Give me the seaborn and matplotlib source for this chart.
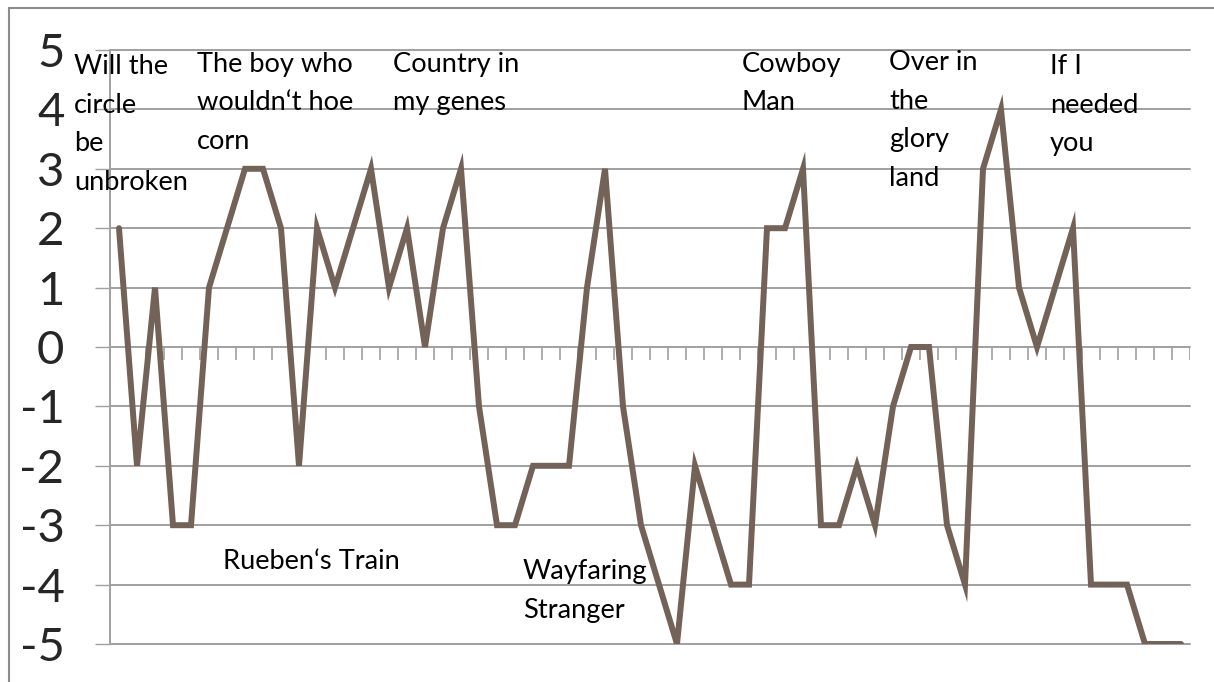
"""
Song mood line chart
"""

import matplotlib
matplotlib.use("Agg")
import matplotlib.pyplot as plt
import seaborn as sns
import pandas as pd
from matplotlib.patches import Rectangle

# one value per song in the set
scores = [2, -2, 1, -3, -3, 1, 2, 3, 3, 2,
          -2, 2, 1, 2, 3, 1, 2, 0, 2, 3,
          -1, -3, -3, -2, -2, -2, 1, 3, -1, -3,
          -4, -5, -2, -3, -4, -4, 2, 2, 3, -3,
          -3, -2, -3, -1, 0, 0, -3, -4, 3, 4,
          1, 0, 1, 2, -4, -4, -4, -5, -5, -5]
y_ticks = [5, 4, 3, 2, 1, 0, -1, -2, -3, -4, -5]

labels = ["Will the\ncircle\nbe\nunbroken",
          "The boy who\nwouldn\u2018t hoe\ncorn",
          "Country in\nmy genes",
          "Cowboy\nMan",
          "Over in\nthe\nglory\nland",
          "If I\nneeded\nyou",
          "Rueben\u2018s Train",
          "Wayfaring\nStranger"]
label_x = [-2.5, 4.33, 15.22, 34.6, 42.78, 51.72, 5.78, 22.44]
label_y = [4.93, 4.97, 4.97, 4.97, 5.0, 4.93, -3.4, -3.57]

LINE_COLOR = "#736257"
GRID_COLOR = "#a0a0a0"
FONT = ["Lato", "DejaVu Sans"]


def main():
    sns.set_style("white")
    plt.rcParams["font.family"] = FONT

    df = pd.DataFrame({"song": range(len(scores)), "score": scores})

    fig = plt.figure(figsize=(12.14, 6.82), dpi=100)
    ax = fig.add_axes([110 / 1214, 1 - 644 / 682, 1080 / 1214, 594 / 682])

    sns.lineplot(data=df, x="song", y="score", ax=ax, color=LINE_COLOR,
                 linewidth=4.3, solid_joinstyle="miter", zorder=3)

    ax.set_xlim(-0.5, len(scores) - 0.5)
    ax.set_ylim(-5, 5)
    ax.set_xlabel("")
    ax.set_ylabel("")

    # horizontal gridlines
    for v in y_ticks:
        ax.axhline(v, color=GRID_COLOR, lw=1.4, zorder=1, clip_on=False)

    for s in ["top", "right", "bottom"]:
        ax.spines[s].set_visible(False)
    ax.spines["left"].set_color(GRID_COLOR)
    ax.spines["left"].set_linewidth(1.4)

    ax.set_yticks(y_ticks)
    ax.set_yticklabels([str(v) for v in y_ticks])
    ax.tick_params(axis="y", length=10.8, width=1.0, color=GRID_COLOR,
                   labelsize=34, pad=22, direction="out", left=True)

    # category boundary ticks hanging below the zero line
    ax.set_xticks([i - 0.5 for i in range(len(scores) + 1)])
    ax.set_xticklabels([])
    ax.tick_params(axis="x", bottom=False)
    ax.vlines([i - 0.5 for i in range(len(scores) + 1)], 0, -13 / 59.4,
              color=GRID_COLOR, lw=1.2, zorder=2)

    for txt, x, y in zip(labels, label_x, label_y):
        ax.text(x, y, txt, fontsize=19.6, va="top", ha="left",
                linespacing=1.68, color="black", zorder=4, clip_on=False)

    # chart area border
    fig.add_artist(Rectangle((9 / 1214, -0.05), 1.1, 1 - 8 / 682 + 0.05,
                             transform=fig.transFigure, fill=False,
                             edgecolor="#8c8c8c", lw=1.5))

    fig.savefig("out.png", dpi=100)


if __name__ == "__main__":
    main()
